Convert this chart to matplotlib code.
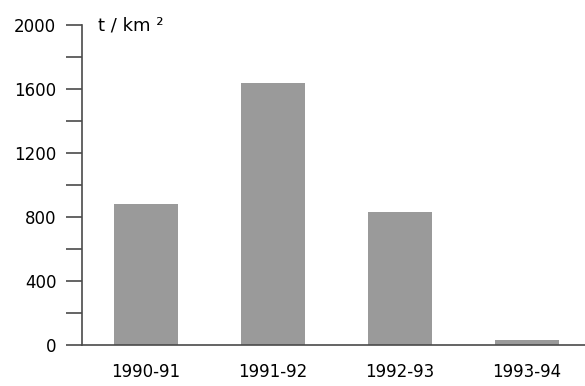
import matplotlib
matplotlib.use("Agg")
import matplotlib.pyplot as plt
from matplotlib.ticker import MultipleLocator

categories = ["1990-91", "1991-92", "1992-93", "1993-94"]
values = [884, 1636, 834, 30]
yticks = [0, 400, 800, 1200, 1600, 2000]
unit = "t / km ²"

fig = plt.figure(figsize=(5.85, 3.86), dpi=100)
ax = fig.add_axes([82/585, 1-345/386, 1-82/585, (345-25)/386])
x = list(range(len(categories)))
ax.bar(x, values, width=0.5, color="#9a9a9a")
ax.set_xlim(-0.504, 3.457)
ax.set_ylim(0, 2000)
ax.set_yticks(yticks)
ax.set_yticklabels([str(t) for t in yticks])
ax.yaxis.set_minor_locator(MultipleLocator(200))
ax.set_xticks(x)
ax.set_xticklabels(categories)
for s in ["top", "right"]:
    ax.spines[s].set_visible(False)
for s in ["left", "bottom"]:
    ax.spines[s].set_color("#4a4a4a")
    ax.spines[s].set_linewidth(1.2)
ax.tick_params(axis="y", which="both", length=11.5, width=1.2, color="#4a4a4a",
               labelsize=12, pad=7)
ax.tick_params(axis="x", length=0, labelsize=12, pad=13)
ax.text((98-82)/(585-82), 1.0, unit, transform=ax.transAxes, fontsize=13,
        va="center", ha="left")
fig.savefig("out.png", dpi=100)
